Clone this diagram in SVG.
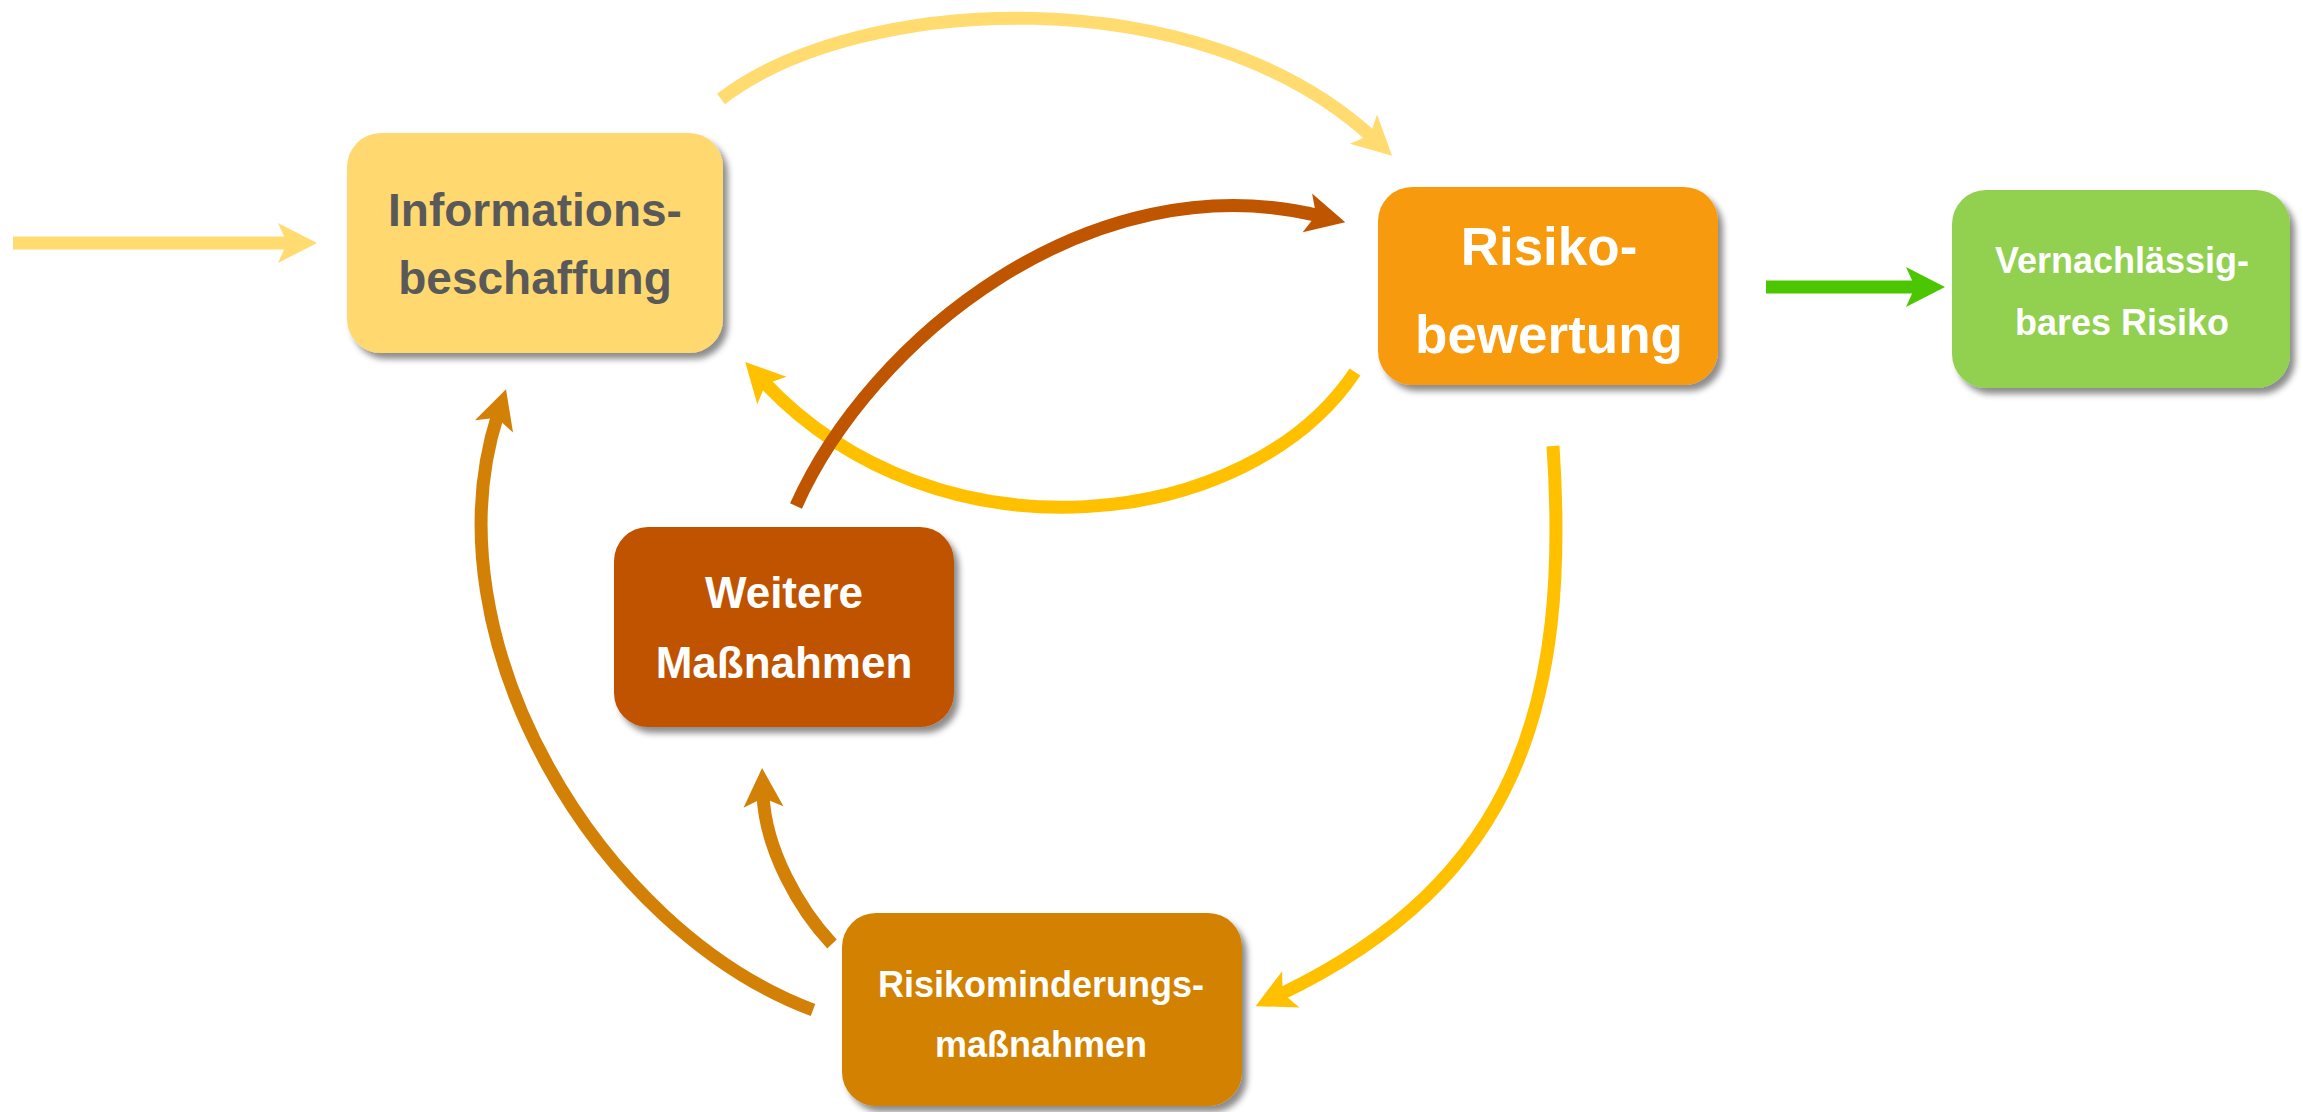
<svg xmlns="http://www.w3.org/2000/svg" width="2303" height="1112" viewBox="0 0 2303 1112">
<style>
.c{fill:none;stroke-width:13;stroke-linecap:butt}
.t{font-family:"Liberation Sans",Arial,sans-serif;font-weight:bold;text-anchor:middle}
.w{fill:#FFFFFF}
</style>
<defs>
<filter id="sh" x="-10%" y="-10%" width="125%" height="130%">
<feDropShadow dx="5" dy="6" stdDeviation="3" flood-color="#000" flood-opacity="0.45"/>
</filter>
<marker id="mLY" markerUnits="userSpaceOnUse" viewBox="-42 -22 46 44" markerWidth="46" markerHeight="44" refX="-26" refY="0" orient="auto"><path d="M0,0 L-39,-20 L-30,0 L-39,20 Z" fill="#FFDB70"/></marker>
<marker id="mY" markerUnits="userSpaceOnUse" viewBox="-42 -22 46 44" markerWidth="46" markerHeight="44" refX="-26" refY="0" orient="auto"><path d="M0,0 L-39,-20 L-30,0 L-39,20 Z" fill="#FFC000"/></marker>
<marker id="mB" markerUnits="userSpaceOnUse" viewBox="-42 -22 46 44" markerWidth="46" markerHeight="44" refX="-26" refY="0" orient="auto"><path d="M0,0 L-39,-20 L-30,0 L-39,20 Z" fill="#C05500"/></marker>
<marker id="mO" markerUnits="userSpaceOnUse" viewBox="-42 -22 46 44" markerWidth="46" markerHeight="44" refX="-26" refY="0" orient="auto"><path d="M0,0 L-39,-20 L-30,0 L-39,20 Z" fill="#D38106"/></marker>
<marker id="mG" markerUnits="userSpaceOnUse" viewBox="-42 -22 46 44" markerWidth="46" markerHeight="44" refX="-26" refY="0" orient="auto"><path d="M0,0 L-39,-20 L-30,0 L-39,20 Z" fill="#4CC600"/></marker>
</defs>
<rect width="2303" height="1112" fill="#FFFFFF"/>
<g id="connectors">
<path class="c" stroke="#FFDB70" marker-end="url(#mLY)" d="M13,243 L291,243"/>
<path class="c" stroke="#FFDB70" marker-end="url(#mLY)" d="M721,99 C860,-8 1200,-22 1373,138"/>
<path class="c" stroke="#FFC000" marker-end="url(#mY)" d="M1355,372 C1250,530 940,570 763,381"/>
<path class="c" stroke="#C05500" marker-end="url(#mB)" d="M796,506 C870,340 1090,160 1320,216"/>
<path class="c" stroke="#FFC000" marker-end="url(#mY)" d="M1553,446 C1570,700 1520,880 1279,995"/>
<path class="c" stroke="#D38106" marker-end="url(#mO)" d="M813,1010 C600,930 425,640 498,414"/>
<path class="c" stroke="#D38106" marker-end="url(#mO)" d="M832,944 C800,910 765,850 763,794"/>
<path class="c" stroke="#4CC600" marker-end="url(#mG)" d="M1766,287 L1919,287"/>
</g>
<g id="informationsbeschaffung">
<rect x="347" y="133" width="376" height="220" rx="34" fill="#FFD96F" filter="url(#sh)"/>
<text class="t" x="535" y="226" font-size="46" fill="#595959">Informations-</text>
<text class="t" x="535" y="294" font-size="46" fill="#595959">beschaffung</text>
</g>
<g id="risikobewertung">
<rect x="1378" y="187" width="340" height="198" rx="34" fill="#F79A0E" filter="url(#sh)"/>
<text class="t w" x="1549" y="265" font-size="53">Risiko-</text>
<text class="t w" x="1549" y="353" font-size="53">bewertung</text>
</g>
<g id="vernachlaessigbares-risiko">
<rect x="1952" y="190" width="338" height="198" rx="34" fill="#92D050" filter="url(#sh)"/>
<text class="t w" x="2122" y="273" font-size="36">Vernachlässig-</text>
<text class="t w" x="2122" y="335" font-size="36">bares Risiko</text>
</g>
<g id="weitere-massnahmen">
<rect x="614" y="527" width="340" height="200" rx="34" fill="#C05200" filter="url(#sh)"/>
<text class="t w" x="784" y="608" font-size="44">Weitere</text>
<text class="t w" x="784" y="678" font-size="44">Maßnahmen</text>
</g>
<g id="risikominderungsmassnahmen">
<rect x="842" y="913" width="400" height="193" rx="34" fill="#D38106" filter="url(#sh)"/>
<text class="t w" x="1041" y="997" font-size="36">Risikominderungs-</text>
<text class="t w" x="1041" y="1057" font-size="36">maßnahmen</text>
</g>
</svg>
